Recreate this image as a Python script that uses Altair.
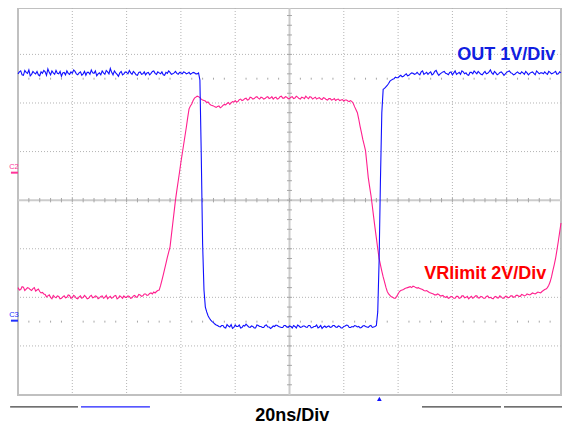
import altair as alt
import pandas as pd

# ---- scope record: time base (ns, 20 ns/div) and traces in screen divisions ----
t_ns = list(range(-100, 101))
t_half = [k + 0.5 for k in range(-100, 100)]

out_div = [
    2.60, 2.66, 2.57, 2.63, 2.68, 2.59, 2.62, 2.65, 2.56, 2.61,
    2.64, 2.70, 2.58, 2.62, 2.67, 2.60, 2.55, 2.63, 2.66, 2.59,
    2.61, 2.65, 2.58, 2.64, 2.60, 2.57, 2.63, 2.68, 2.61, 2.56,
    2.62, 2.66, 2.59, 2.64, 2.71, 2.58, 2.62, 2.55, 2.65, 2.60,
    2.63, 2.67, 2.59, 2.62, 2.57, 2.64, 2.60, 2.58, 2.63, 2.61,
    2.66, 2.59, 2.62, 2.64, 2.57, 2.61, 2.63, 2.60, 2.65, 2.59,
    2.62, 2.64, 2.60, 2.63, 2.61, 2.62, 2.60,
    2.47, -0.90, -2.20, -2.38, -2.47, -2.52, -2.57, -2.60,
    -2.58, -2.62, -2.56, -2.61, -2.64, -2.57, -2.60, -2.63, -2.58, -2.55,
    -2.61, -2.59, -2.63, -2.57, -2.60, -2.62, -2.58, -2.61, -2.64, -2.59,
    -2.57, -2.60, -2.62, -2.58, -2.61, -2.59, -2.63, -2.60, -2.57, -2.62,
    -2.59, -2.61, -2.58, -2.63, -2.60, -2.57, -2.61, -2.64, -2.59, -2.60,
    -2.62, -2.58, -2.61, -2.59, -2.63, -2.60, -2.57, -2.62, -2.60, -2.58,
    -2.61, -2.63, -2.59, -2.60, -2.62, -2.58, -2.61, -2.58,
    -1.25, 1.80, 2.30, 2.36, 2.45, 2.49, 2.53, 2.52, 2.57, 2.55, 2.60, 2.57, 2.62, 2.59,
    2.63, 2.58, 2.66, 2.61, 2.59, 2.64, 2.60, 2.67, 2.57, 2.62,
    2.65, 2.60, 2.63, 2.58, 2.66, 2.61, 2.59, 2.64, 2.62, 2.57,
    2.63, 2.66, 2.60, 2.62, 2.58, 2.65, 2.61, 2.68, 2.59, 2.62,
    2.60, 2.64, 2.57, 2.63, 2.66, 2.61, 2.59, 2.64, 2.60, 2.62,
    2.65, 2.58, 2.63, 2.61, 2.66, 2.60, 2.62, 2.64, 2.59, 2.63,
    2.61, 2.65, 2.60, 2.62,
]
out_div_half = [
    2.64, 2.58, 2.67, 2.61, 2.56, 2.65, 2.60, 2.58, 2.64, 2.67,
    2.57, 2.63, 2.66, 2.59, 2.61, 2.65, 2.62, 2.58, 2.61, 2.64,
    2.68, 2.60, 2.62, 2.57, 2.65, 2.63, 2.59, 2.62, 2.66, 2.60,
    2.58, 2.62, 2.67, 2.60, 2.63, 2.66, 2.59, 2.62, 2.58, 2.64,
    2.60, 2.62, 2.65, 2.58, 2.63, 2.59, 2.64, 2.62, 2.58, 2.65,
    2.61, 2.64, 2.60, 2.58, 2.63, 2.66, 2.59, 2.62, 2.61, 2.63,
    2.60, 2.63, 2.61, 2.59, 2.63, 2.60, 2.62,
    0.93, -1.85, -2.30, -2.43, -2.50, -2.55, -2.58,
    -2.61, -2.58, -2.63, -2.59, -2.56, -2.62, -2.60, -2.57, -2.62, -2.59,
    -2.58, -2.62, -2.60, -2.63, -2.58, -2.60, -2.62, -2.57, -2.61, -2.62,
    -2.60, -2.58, -2.61, -2.62, -2.58, -2.62, -2.60, -2.58, -2.63, -2.59,
    -2.61, -2.59, -2.62, -2.58, -2.62, -2.60, -2.63, -2.58, -2.61, -2.62,
    -2.59, -2.61, -2.58, -2.62, -2.60, -2.63, -2.59, -2.58, -2.62, -2.61,
    -2.59, -2.60, -2.62, -2.58, -2.61, -2.59, -2.62, -2.60,
    -2.30, 0.42, 2.28, 2.33, 2.40, 2.47, 2.50, 2.52, 2.55, 2.54, 2.58, 2.56, 2.60, 2.61, 2.60,
    2.60, 2.64, 2.59, 2.63, 2.62, 2.58, 2.65, 2.61, 2.60, 2.64,
    2.61, 2.58, 2.64, 2.62, 2.59, 2.63, 2.66, 2.60, 2.58, 2.63,
    2.60, 2.63, 2.65, 2.59, 2.62, 2.60, 2.64, 2.62, 2.65, 2.58,
    2.63, 2.61, 2.60, 2.65, 2.62, 2.58, 2.62, 2.61, 2.64, 2.59,
    2.62, 2.61, 2.64, 2.58, 2.63, 2.62, 2.60, 2.61, 2.65, 2.60,
    2.63, 2.59, 2.64,
]

vr_div = [
    -1.80, -1.84, -1.79, -1.83, -1.81, -1.86, -1.80, -1.85, -1.88, -1.90,
    -1.94, -1.97, -2.00, -1.96, -2.01, -1.98, -2.02, -1.97, -2.00, -1.96,
    -2.01, -1.98, -2.03, -1.97, -2.00, -1.99, -2.02, -1.96, -2.00, -1.98,
    -2.01, -1.97, -2.00, -2.03, -1.98, -2.00, -1.96, -2.01, -1.99, -1.97,
    -2.00, -1.98, -2.01, -1.96, -1.99, -1.95, -1.97, -1.93, -1.95, -1.91,
    -1.89, -1.88, -1.85, -1.65, -1.42, -1.18, -0.96, -0.48, 0.00, 0.39,
    0.78, 1.14, 1.50, 1.88, 1.98, 2.10, 2.14, 2.11, 2.06, 2.04,
    2.02, 1.96, 1.94, 1.91, 1.94, 1.92, 1.97, 1.99, 1.97, 2.03,
    2.05, 2.03, 2.08, 2.06, 2.10, 2.07, 2.11, 2.09, 2.13, 2.08,
    2.11, 2.09, 2.13, 2.10, 2.08, 2.12, 2.09, 2.14, 2.10, 2.12,
    2.09, 2.13, 2.10, 2.12, 2.08, 2.11, 2.14, 2.09, 2.12, 2.10,
    2.08, 2.11, 2.07, 2.10, 2.06, 2.09, 2.07, 2.05, 2.08, 2.06,
    2.04, 2.06, 2.03, 2.03, 1.92, 1.80, 1.52, 1.25, 1.02, 0.47,
    0.10, -0.35, -0.78, -1.20, -1.46, -1.68, -1.88, -1.96, -2.00, -2.02,
    -1.93, -1.86, -1.84, -1.81, -1.79, -1.80, -1.78, -1.81, -1.82, -1.84,
    -1.87, -1.88, -1.91, -1.93, -1.95, -1.94, -1.97, -1.99, -1.98, -2.01,
    -1.99, -2.02, -1.98, -2.01, -1.97, -2.00, -2.03, -1.98, -2.00, -1.97,
    -2.01, -1.99, -2.02, -1.97, -2.00, -2.03, -1.98, -2.01, -1.99, -2.02,
    -1.98, -2.00, -1.97, -1.99, -1.96, -1.98, -1.95, -1.96, -1.94, -1.93,
    -1.92, -1.91, -1.90, -1.88, -1.84, -1.80, -1.68, -1.45, -1.20, -0.85, -0.47,
]
vr_div_half = [
    -1.85, -1.78, -1.86, -1.80, -1.84, -1.82, -1.87, -1.83, -1.91, -1.93,
    -1.99, -1.95, -2.03, -1.99, -1.97, -2.03, -1.99, -2.01, -1.95, -2.02,
    -1.96, -2.02, -1.99, -2.02, -1.96, -2.03, -1.98, -2.01, -1.97, -2.03,
    -1.98, -2.02, -1.96, -2.00, -2.02, -1.97, -2.03, -1.97, -2.02, -2.00,
    -1.97, -2.02, -1.97, -2.00, -1.94, -1.98, -1.93, -1.96, -1.92, -1.93,
    -1.91, -1.86, -1.76, -1.54, -1.30, -1.07, -0.72, -0.24, 0.20, 0.58,
    0.96, 1.32, 1.70, 1.94, 2.05, 2.12, 2.13, 2.08, 2.05, 2.01,
    1.98, 1.95, 1.92, 1.93, 1.90, 1.95, 1.96, 2.01, 2.00, 2.02,
    2.02, 2.07, 2.05, 2.09, 2.06, 2.12, 2.08, 2.12, 2.10, 2.12,
    2.08, 2.12, 2.09, 2.13, 2.11, 2.08, 2.13, 2.10, 2.13, 2.09,
    2.12, 2.09, 2.14, 2.09, 2.12, 2.09, 2.11, 2.13, 2.08, 2.12,
    2.10, 2.08, 2.11, 2.07, 2.09, 2.06, 2.09, 2.07, 2.05, 2.07,
    2.06, 2.04, 2.05, 1.99, 1.86, 1.67, 1.39, 1.14, 0.75, 0.28,
    -0.12, -0.57, -1.00, -1.33, -1.58, -1.79, -1.93, -1.99, -2.02, -1.98,
    -1.88, -1.85, -1.82, -1.80, -1.78, -1.77, -1.80, -1.80, -1.83, -1.86,
    -1.86, -1.90, -1.92, -1.95, -1.93, -1.97, -1.96, -2.00, -2.02, -1.98,
    -2.02, -1.98, -2.02, -1.97, -2.01, -1.98, -2.00, -2.02, -1.97, -2.01,
    -1.98, -2.02, -1.98, -2.01, -2.02, -1.99, -2.01, -1.97, -2.02, -1.98,
    -2.01, -1.97, -2.00, -1.96, -1.98, -1.94, -1.97, -1.93, -1.95, -1.91,
    -1.93, -1.89, -1.91, -1.86, -1.83, -1.75, -1.58, -1.33, -1.03, -0.66,
]

assert len(out_div) == len(t_ns), len(out_div)
assert len(vr_div) == len(t_ns), len(vr_div)
assert len(out_div_half) == len(t_half), len(out_div_half)
assert len(vr_div_half) == len(t_half), len(vr_div_half)

# graticule (divisions: 20 ns horizontally, 1 div vertically)
grid_x = [-80, -60, -40, -20, 20, 40, 60, 80]
grid_y = [-3, -2, -1, 1, 2, 3]

# trace labels
label_text = ["OUT 1V/Div", "VRlimit 2V/Div"]
label_t = [61.8, 49.6]
label_v = [2.885, -1.628]
label_color = ["#1020e0", "#ff0000"]

# channel ground markers
marker_name = ["C2", "C3"]
marker_level = [0.566, -2.48]
marker_text_level = [0.634, -2.397]
marker_color = ["#ff3399", "#2030ff"]

# bottom status bar
bar_t1 = [-102.9, -76.8, 48.8, 79.0]
bar_t2 = [-77.9, -51.4, 77.9, 103.3]
bar_color = ["#404040", "#2020ff", "#404040", "#404040"]
bar_level = -4.255
trigger_t = [33.1]
trigger_level = [-4.09]
timebase_text = "20ns/Div"
timebase_t = 1.0
timebase_level = -4.55

FONT = "Liberation Sans"
xs = alt.Scale(domain=[-100, 100], nice=False, zero=False)
ys = alt.Scale(domain=[-4.01, 3.955], nice=False, zero=False)


def X(f):
    return alt.X(f, type="quantitative", scale=xs, axis=None)


def Y(f):
    return alt.Y(f, type="quantitative", scale=ys, axis=None)


# grid
gx = alt.Chart(pd.DataFrame({"x": grid_x})).mark_rule(
    color="#b4b4b4", strokeDash=[1, 2], strokeWidth=1
).encode(x=X("x"))
gy = alt.Chart(pd.DataFrame({"y": grid_y})).mark_rule(
    color="#b4b4b4", strokeDash=[1, 2], strokeWidth=1
).encode(y=Y("y"))
cx = alt.Chart(pd.DataFrame({"x": [0]})).mark_rule(color="#cccccc", strokeWidth=2).encode(x=X("x"))
cy = alt.Chart(pd.DataFrame({"y": [0]})).mark_rule(color="#cccccc", strokeWidth=2).encode(y=Y("y"))

minor = []
for k in range(-24, 25):
    minor.append({"x1": 4 * k, "x2": 4 * k, "y1": -0.045, "y2": 0.045})
for k in range(-19, 20):
    minor.append({"x1": -0.9, "x2": 0.9, "y1": 0.2 * k, "y2": 0.2 * k})
for lvl in (2.5, -2.5):
    for k in range(-24, 25):
        if (4 * k) % 20:
            minor.append({"x1": 4 * k, "x2": 4 * k, "y1": lvl - 0.02, "y2": lvl + 0.02})
mn = alt.Chart(pd.DataFrame(minor)).mark_rule(color="#a6a6a6", strokeWidth=1).encode(
    x=X("x1"), x2=alt.X2("x2"), y=Y("y1"), y2=alt.Y2("y2")
)

# traces (full-rate record = integer and half-ns samples)
pink_df = pd.DataFrame({"t": t_ns + t_half, "v": vr_div + vr_div_half}).sort_values("t")
blue_df = pd.DataFrame({"t": t_ns + t_half, "v": out_div + out_div_half}).sort_values("t")
pink = alt.Chart(pink_df).mark_line(color="#ff1f8e", strokeWidth=1.1).encode(x=X("t"), y=Y("v"))
blue = alt.Chart(blue_df).mark_line(color="#1010ff", strokeWidth=1.1).encode(x=X("t"), y=Y("v"))

labels = alt.Chart(
    pd.DataFrame({"t": label_t, "v": label_v, "s": label_text, "c": label_color})
).mark_text(align="left", baseline="alphabetic", font=FONT, fontSize=18, fontWeight="bold").encode(
    x=X("t"), y=Y("v"), text="s:N", color=alt.Color("c:N", scale=None)
)

mk_df = pd.DataFrame({
    "name": marker_name, "lvl": marker_level, "tl": marker_text_level,
    "c": marker_color, "x1": [-102.6] * 2, "x2": [-100.0] * 2, "xt": [-101.5] * 2,
})
mk_bar = alt.Chart(mk_df).mark_rule(strokeWidth=2).encode(
    x=X("x1"), x2=alt.X2("x2"), y=Y("lvl"), color=alt.Color("c:N", scale=None)
)
mk_txt = alt.Chart(mk_df).mark_text(align="center", baseline="alphabetic", font=FONT, fontSize=7.5).encode(
    x=X("xt"), y=Y("tl"), text="name:N", color=alt.Color("c:N", scale=None)
)

bars = alt.Chart(
    pd.DataFrame({"x1": bar_t1, "x2": bar_t2, "c": bar_color, "y": [bar_level] * 4})
).mark_rule(strokeWidth=1.2).encode(
    x=X("x1"), x2=alt.X2("x2"), y=Y("y"), color=alt.Color("c:N", scale=None)
)
trig = alt.Chart(pd.DataFrame({"t": trigger_t, "v": trigger_level})).mark_point(
    shape="triangle-up", filled=True, color="#1010ff", size=22, opacity=1
).encode(x=X("t"), y=Y("v"))
tb = alt.Chart(pd.DataFrame({"t": [timebase_t], "v": [timebase_level], "s": [timebase_text]})).mark_text(
    align="center", baseline="alphabetic", font=FONT, fontSize=18, fontWeight="bold", color="#000000"
).encode(x=X("t"), y=Y("v"), text="s:N")

chart = alt.layer(gx, gy, cx, cy, mn, pink, blue, labels, mk_bar, mk_txt, bars, trig, tb).properties(
    width=543, height=387,
    autosize=alt.AutoSizeParams(type="none"),
    padding={"left": 10, "top": 0, "right": 1, "bottom": 31},
    background="#ffffff",
).configure_view(stroke="#c0c0c0", strokeWidth=2)

chart.save("out.html", embed_options={"renderer": "svg", "actions": False})
